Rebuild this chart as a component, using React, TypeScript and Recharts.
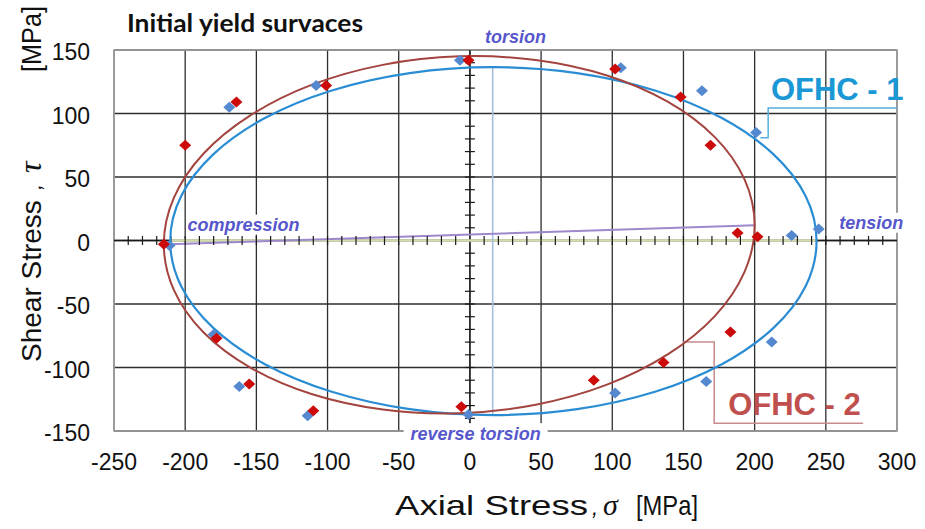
import React from 'react';
import { ScatterChart, Scatter, XAxis, YAxis, CartesianGrid, ReferenceLine, ReferenceArea, ReferenceDot } from 'recharts';

const xTicks = [-250, -200, -150, -100, -50, 0, 50, 100, 150, 200, 250, 300];
const yTicks = [-150, -100, -50, 0, 50, 100, 150];
const xMinorTicks = [-240, -230, -220, -210, -200, -190, -180, -170, -160, -150, -140, -130, -120, -110, -100, -90, -80, -70, -60, -50, -40, -30, -20, -10, 10, 20, 30, 40, 50, 60, 70, 80, 90, 100, 110, 120, 130, 140, 150, 160, 170, 180, 190, 200, 210, 220, 230, 240, 250, 260, 270, 280, 290];
const yMinorTicks = [-140, -130, -120, -110, -100, -90, -80, -70, -60, -50, -40, -30, -20, -10, 10, 20, 30, 40, 50, 60, 70, 80, 90, 100, 110, 120, 130, 140];

// measured yield points (axial stress, shear stress)
const ofhc1Points = [
  { x: -211, y: -4 }, { x: -169, y: 105 }, { x: -108, y: 122 }, { x: -7, y: 142 },
  { x: 106, y: 136 }, { x: 163, y: 118 }, { x: 201, y: 85 }, { x: 245, y: 9 },
  { x: 226, y: 4 }, { x: -180, y: -74 }, { x: -162, y: -115 }, { x: -114, y: -138 },
  { x: -1, y: -137 }, { x: 102, y: -120 }, { x: 166, y: -111 }, { x: 212, y: -80 },
];
const ofhc2Points = [
  { x: -215, y: -3 }, { x: -200, y: 75 }, { x: -164, y: 109 }, { x: -101, y: 122 },
  { x: -1, y: 142 }, { x: 102, y: 135 }, { x: 148, y: 113 }, { x: 169, y: 75 },
  { x: 188, y: 6 }, { x: 202, y: 3 }, { x: -178, y: -77 }, { x: -155, y: -113 },
  { x: -110, y: -134 }, { x: -6, y: -131 }, { x: 87, y: -110 }, { x: 136, y: -96 },
  { x: 183, y: -72 },
];

// fitted yield surfaces
const ofhc1Curve = [
  { x: 243.5, y: -0.5 }, { x: 235.8, y: 35.0 }, { x: 213.1, y: 68.0 }, { x: 177.0, y: 96.4 },
  { x: 130.0, y: 118.1 }, { x: 75.3, y: 131.8 }, { x: 16.5, y: 136.5 }, { x: -42.3, y: 131.8 },
  { x: -97.0, y: 118.1 }, { x: -144.0, y: 96.4 }, { x: -180.1, y: 68.0 }, { x: -202.8, y: 35.0 },
  { x: -210.5, y: -0.5 }, { x: -202.8, y: -36.0 }, { x: -180.1, y: -69.0 }, { x: -144.0, y: -97.4 },
  { x: -97.0, y: -119.1 }, { x: -42.3, y: -132.8 }, { x: 16.5, y: -137.5 }, { x: 75.3, y: -132.8 },
  { x: 130.0, y: -119.1 }, { x: 177.0, y: -97.4 }, { x: 213.1, y: -69.0 }, { x: 235.8, y: -36.0 },
];
const ofhc2Curve = [
  { x: 200.0, y: 12.0 }, { x: 192.9, y: 48.1 }, { x: 172.2, y: 81.2 }, { x: 139.2, y: 109.1 },
  { x: 96.3, y: 129.9 }, { x: 46.2, y: 142.1 }, { x: -7.5, y: 145.0 }, { x: -61.2, y: 138.3 },
  { x: -111.3, y: 122.5 }, { x: -154.2, y: 98.5 }, { x: -187.2, y: 68.3 }, { x: -207.9, y: 33.7 },
  { x: -215.0, y: -3.0 }, { x: -207.9, y: -39.1 }, { x: -187.2, y: -72.3 }, { x: -154.2, y: -100.1 },
  { x: -111.3, y: -120.9 }, { x: -61.2, y: -133.1 }, { x: -7.5, y: -136.0 }, { x: 46.2, y: -129.3 },
  { x: 96.3, y: -113.5 }, { x: 139.2, y: -89.5 }, { x: 172.2, y: -59.3 }, { x: 192.9, y: -24.7 },
];

const ofhc1Leader = [{ x: 204, y: 81 }, { x: 209.5, y: 81 }, { x: 209.5, y: 104.3 }, { x: 300, y: 104.3 }];
const ofhc2Leader = [{ x: 149.8, y: -79.9 }, { x: 171.6, y: -79.9 }, { x: 171.6, y: -143.8 }, { x: 276.2, y: -143.8 }];

const notes = [
  { x: 32, y: 160.6, text: 'torsion', w: 70 },
  { x: -159, y: 12.5, text: 'compression', w: 112 },
  { x: 282, y: 14, text: 'tension', w: 72 },
  { x: 4, y: -151.7, text: 'reverse torsion', w: 144 },
];
const seriesLabels = [
  { x: 258, y: 119.2, text: 'OFHC - 1', color: '#1a98d5' },
  { x: 228, y: -128.7, text: 'OFHC - 2', color: '#c0504d' },
];

const FONT = '"Liberation Sans", Arial, sans-serif';

function closedCardinal(context: any) {
  let pts: number[][] = [];
  return {
    areaStart() {},
    areaEnd() {},
    lineStart() { pts = []; },
    point(x: number, y: number) { pts.push([+x, +y]); },
    lineEnd() {
      const n = pts.length;
      if (!n) return;
      context.moveTo(pts[0][0], pts[0][1]);
      for (let i = 0; i < n; i++) {
        const p0 = pts[(i - 1 + n) % n];
        const p1 = pts[i];
        const p2 = pts[(i + 1) % n];
        const p3 = pts[(i + 2) % n];
        context.bezierCurveTo(
          p1[0] + (p2[0] - p0[0]) / 6, p1[1] + (p2[1] - p0[1]) / 6,
          p2[0] - (p3[0] - p1[0]) / 6, p2[1] - (p3[1] - p1[1]) / 6,
          p2[0], p2[1]
        );
      }
      context.closePath();
    },
  };
}

const diamond = (color: string) => (p: any) => (
  <polygon
    points={`${p.cx},${p.cy - 5.5} ${p.cx + 6},${p.cy} ${p.cx},${p.cy + 5.5} ${p.cx - 6},${p.cy}`}
    fill={color}
  />
);

const XTick = (p: any) => (
  <text x={p.x} y={p.y + 33} textAnchor="middle" fontSize={23} fontFamily={FONT} fill="#111">
    {p.payload.value}
  </text>
);
const YTick = (p: any) => (
  <text x={p.x - 18} y={p.y + 10} textAnchor="end" fontSize={23} fontFamily={FONT} fill="#111">
    {p.payload.value}
  </text>
);

export default function App() {
  return (
    <div style={{ position: 'absolute', left: 0, top: 0, width: 925, height: 529, background: '#fff' }}>
      <ScatterChart width={925} height={529} margin={{ top: 50, right: 28, bottom: 58, left: 54 }}>
        <CartesianGrid stroke="#2e2e2e" strokeWidth={1.3} />
        <XAxis type="number" dataKey="x" domain={[-250, 300]} ticks={xTicks} axisLine={false} tickLine={false}
          tickMargin={0} tick={<XTick />} height={40} interval={0} />
        <YAxis type="number" dataKey="y" domain={[-150, 150]} ticks={yTicks} axisLine={false} tickLine={false}
          tickMargin={0} tick={<YTick />} width={60} interval={0} />
        <ReferenceArea x1={-250} x2={300} y1={-150} y2={150} fill="none" stroke="#a4a4a4" strokeWidth={1.6} />
        <ReferenceLine y={0} stroke="#1a1a1a" strokeWidth={1.3} />
        <ReferenceLine x={0} stroke="#1a1a1a" strokeWidth={1.3} />
        <Scatter data={xMinorTicks.map((v) => ({ x: v, y: 0 }))} isAnimationActive={false}
          shape={(p: any) => <line x1={p.cx} x2={p.cx} y1={p.cy - 4.5} y2={p.cy + 4.5} stroke="#1a1a1a" strokeWidth={1.2} />} />
        <Scatter data={yMinorTicks.map((v) => ({ x: 0, y: v }))} isAnimationActive={false}
          shape={(p: any) => <line x1={p.cx - 5} x2={p.cx + 5} y1={p.cy} y2={p.cy} stroke="#1a1a1a" strokeWidth={1.2} />} />
        <ReferenceLine segment={[{ x: -211, y: 0 }, { x: 243, y: 0 }]} stroke="#d3dcae" strokeWidth={2.5} />
        <ReferenceLine segment={[{ x: 16, y: 136 }, { x: 16, y: -137 }]} stroke="#a3bddf" strokeWidth={1.6} />
        <ReferenceLine segment={[{ x: -211, y: -3 }, { x: 200, y: 12 }]} stroke="#9d88cc" strokeWidth={2} />
        <Scatter data={ofhc1Leader} isAnimationActive={false} line={{ stroke: '#55aee0', strokeWidth: 1.5 }}
          lineType="joint" shape={() => null} />
        <Scatter data={ofhc2Leader} isAnimationActive={false} line={{ stroke: '#c88b8b', strokeWidth: 1.5 }}
          lineType="joint" shape={() => null} />
        <Scatter data={ofhc1Curve} isAnimationActive={false} line={{ stroke: '#2a8dd4', strokeWidth: 2.2 }}
          lineType="joint" lineJointType={closedCardinal as any} shape={() => null} />
        <Scatter data={ofhc2Curve} isAnimationActive={false} line={{ stroke: '#a3443f', strokeWidth: 2 }}
          lineType="joint" lineJointType={closedCardinal as any} shape={() => null} />
        <Scatter data={ofhc1Points} isAnimationActive={false} shape={diamond('#5589cf')} />
        <Scatter data={ofhc2Points} isAnimationActive={false} shape={diamond('#cc0a0a')} />
        {notes.map((n) => (
          <ReferenceDot key={n.text} x={n.x} y={n.y} r={1} ifOverflow="visible"
            shape={(p: any) => (
              <g>
                <rect x={p.cx - n.w / 2} y={p.cy - 10} width={n.w} height={20} fill="#fff" />
                <text x={p.cx} y={p.cy + 6.5} textAnchor="middle" fontSize={18} fontStyle="italic"
                  fontWeight="bold" fontFamily={FONT} fill="#5757cc">{n.text}</text>
              </g>
            )} />
        ))}
        {seriesLabels.map((n) => (
          <ReferenceDot key={n.text} x={n.x} y={n.y} r={1} ifOverflow="visible"
            shape={(p: any) => (
              <text x={p.cx} y={p.cy + 11} textAnchor="middle" fontSize={31} fontWeight="bold"
                fontFamily={FONT} fill={n.color}>{n.text}</text>
            )} />
        ))}
        <text x={127} y={32} fontSize={24} fontWeight="bold" fontFamily="Lato, sans-serif" fill="#111"
          textLength={236} lengthAdjust="spacingAndGlyphs">
          Initial yield survaces
        </text>
        <text x={395} y={515} fontSize={28} fontFamily={FONT} fill="#111">
          <tspan x={395} textLength={193} lengthAdjust="spacingAndGlyphs">Axial Stress</tspan>
          <tspan x={592} fontSize={22} fontStyle="italic">,</tspan>
          <tspan x={603} fontSize={30} fontStyle="italic" fontFamily='"Liberation Serif", serif'>σ</tspan>
          <tspan x={636} textLength={62} lengthAdjust="spacingAndGlyphs">[MPa]</tspan>
        </text>
        <text transform="translate(41,362) rotate(-90)" fontSize={28} fontFamily={FONT} fill="#111">
          <tspan x={0}>Shear Stress</tspan>
          <tspan x={172} fontSize={22} fontStyle="italic">,</tspan>
          <tspan x={189} fontSize={32} fontStyle="italic" fontFamily='"Liberation Serif", serif'>τ</tspan>
          <tspan x={290} textLength={66} lengthAdjust="spacingAndGlyphs">[MPa]</tspan>
        </text>
      </ScatterChart>
    </div>
  );
}
